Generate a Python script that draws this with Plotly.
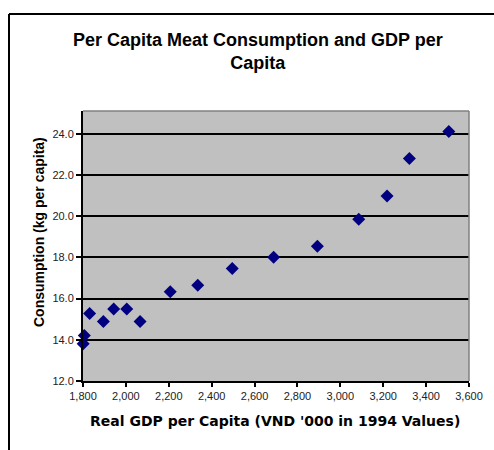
import plotly.graph_objects as go

# Real GDP per capita (VND '000, 1994 values) and meat consumption (kg per capita)
gdp = [1801, 1806, 1831, 1895, 1943, 2004, 2066, 2207, 2335, 2496, 2689, 2893, 3086, 3218, 3322, 3506]
consumption = [13.81, 14.21, 15.28, 14.89, 15.49, 15.49, 14.89, 16.33, 16.64, 17.46, 18.01, 18.54, 19.85, 20.98, 22.80, 24.11]

x_ticks = [1800, 2000, 2200, 2400, 2600, 2800, 3000, 3200, 3400, 3600]
y_ticks = [12.0, 14.0, 16.0, 18.0, 20.0, 22.0, 24.0]

fig = go.Figure(
    go.Scatter(
        x=gdp,
        y=consumption,
        mode="markers",
        marker=dict(symbol="diamond", size=10, color="#000080", line=dict(width=0)),
        cliponaxis=False,
    )
)

tick_font = dict(family="Liberation Sans, Arial", size=11, color="#222222")

# pixel -> paper helpers for the 494x450 canvas with a 83/25/111/69 margin
def px_x(p):
    return (p - 83) / 386

def px_y(p):
    return (381 - p) / 270

fig.update_layout(
    width=494,
    height=450,
    margin=dict(l=83, r=25, t=111, b=69),
    paper_bgcolor="white",
    plot_bgcolor="#C0C0C0",
    showlegend=False,
    xaxis=dict(
        range=[1800, 3600],
        tickvals=x_ticks,
        tickformat=",d",
        showgrid=False,
        zeroline=False,
        showline=True,
        linecolor="black",
        linewidth=2,
        ticks="outside",
        ticklen=4,
        tickwidth=1.5,
        tickcolor="black",
        tickfont=tick_font,
    ),
    yaxis=dict(
        range=[12, 25.1],
        tickvals=y_ticks,
        tickformat=".1f",
        showgrid=True,
        gridcolor="black",
        gridwidth=1.5,
        zeroline=False,
        showline=True,
        linecolor="black",
        linewidth=2,
        ticks="outside",
        ticklen=5,
        tickwidth=1.5,
        tickcolor="black",
        tickfont=tick_font,
    ),
    shapes=[
        # chart frame: left edge and top edge (the rest runs off the page)
        dict(type="line", xref="paper", yref="paper",
             x0=px_x(9), y0=px_y(450), x1=px_x(9), y1=px_y(14),
             line=dict(color="black", width=2), layer="above"),
        dict(type="line", xref="paper", yref="paper",
             x0=px_x(9), y0=px_y(14), x1=px_x(494), y1=px_y(14),
             line=dict(color="black", width=2), layer="above"),
        # plot area top and right edges
        dict(type="line", xref="paper", yref="paper",
             x0=0, y0=1, x1=1, y1=1, line=dict(color="#808080", width=1.5)),
        dict(type="line", xref="paper", yref="paper",
             x0=1, y0=0, x1=1, y1=1, line=dict(color="#808080", width=1.5)),
    ],
    annotations=[
        dict(text="<b>Per Capita Meat Consumption and GDP per<br>Capita</b>",
             xref="paper", yref="paper", x=px_x(258), y=px_y(51.5),
             xanchor="center", yanchor="middle", showarrow=False,
             font=dict(family="Liberation Sans, Arial", size=18, color="black")),
        dict(text="<b>Consumption (kg per capita)</b>",
             xref="paper", yref="paper", x=px_x(39), y=px_y(232),
             xanchor="center", yanchor="middle", showarrow=False, textangle=-90,
             font=dict(family="Liberation Sans, Arial", size=14, color="black")),
        dict(text="<b>Real GDP per Capita (VND '000 in 1994 Values)</b>",
             xref="paper", yref="paper", x=px_x(275), y=px_y(421),
             xanchor="center", yanchor="middle", showarrow=False,
             font=dict(family="DejaVu Sans, Verdana", size=14, color="black")),
    ],
)

fig.write_html("out.html", config={"displayModeBar": False})
